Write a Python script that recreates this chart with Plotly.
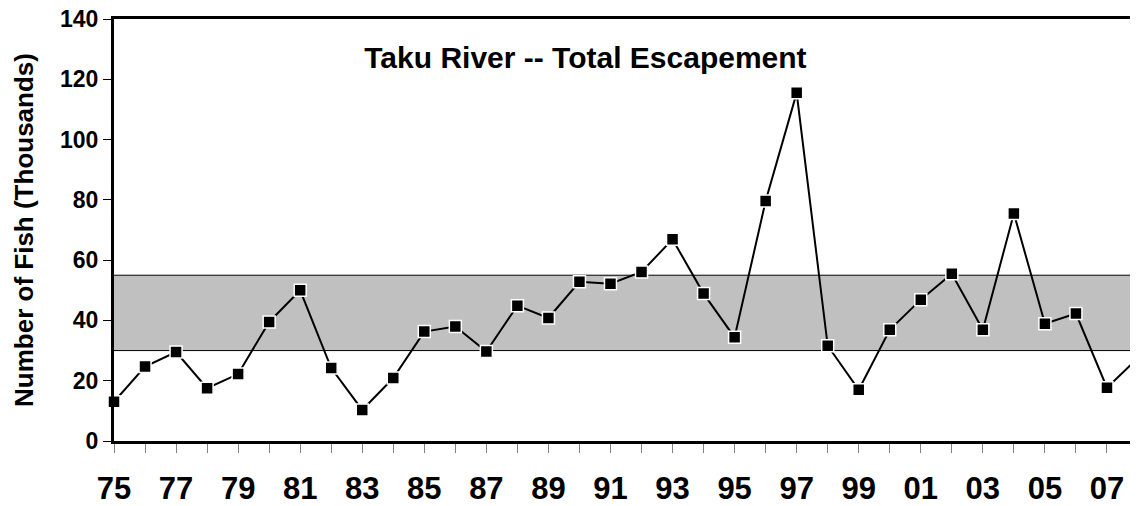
import plotly.graph_objects as go

# Taku River total escapement, thousands of fish
years = list(range(1975, 2009))
escapement = [13.0, 24.7, 29.5, 17.5, 22.2, 39.5, 50.0, 24.2, 10.3, 20.9,
              36.3, 38.0, 29.7, 44.9, 40.8, 52.8, 52.2, 56.1, 66.9, 48.9,
              34.4, 79.6, 115.5, 31.6, 17.0, 36.9, 46.9, 55.5, 36.9, 75.5,
              38.9, 42.3, 17.7, 27.5]

# escapement goal range
goal_low = 30
goal_high = 55

y_ticks = [0, 20, 40, 60, 80, 100, 120, 140]
x_ticktext = [str(y)[2:] if y % 2 == 1 else "" for y in years]

font = "Liberation Sans, Arial, sans-serif"

fig = go.Figure()

fig.add_trace(go.Scatter(
    x=years, y=escapement, mode="lines+markers",
    line=dict(color="black", width=2),
    marker=dict(symbol="square", size=12, color="black",
                line=dict(color="white", width=1.5)),
    cliponaxis=False, showlegend=False,
))

# goal band: grey fill with black edges top and bottom
fig.add_shape(type="rect", xref="paper", x0=0, x1=1, y0=goal_low, y1=goal_high,
              fillcolor="#C0C0C0", line=dict(width=0), layer="below")
for lvl in (goal_low, goal_high):
    fig.add_shape(type="line", xref="paper", x0=0, x1=1, y0=lvl, y1=lvl,
                  line=dict(color="black", width=1), layer="below")

# page body has an 8px margin, so the figure is 8px smaller than the window
fig.update_layout(
    width=1130, height=498,
    margin=dict(l=106, r=0, t=11, b=65),
    plot_bgcolor="white", paper_bgcolor="white",
    font=dict(family=font, color="black"),
    title=dict(text="<b>Taku River -- Total Escapement</b>",
               x=0.511, xanchor="center", y=0.9, yanchor="middle",
               font=dict(size=30, family=font, color="black")),
)

fig.update_xaxes(
    range=[1975, 2008], tickvals=years, ticktext=x_ticktext,
    showline=True, linecolor="black", linewidth=3, mirror=True,
    ticks="outside", ticklen=9, tickwidth=1, tickcolor="#808080",
    tickfont=dict(size=31, family=font, color="black", weight="bold"),
    ticklabelstandoff=9, ticklabeloverflow="allow",
    showgrid=False, zeroline=False, automargin=False,
)

fig.update_yaxes(
    range=[0, 140], tickvals=y_ticks,
    showline=True, linecolor="black", linewidth=3,
    ticks="outside", ticklen=8, tickwidth=1, tickcolor="black",
    tickfont=dict(size=23, family=font, color="black", weight="bold"),
    ticklabeloverflow="allow",
    title=dict(text="<b>Number of Fish (Thousands)</b>",
               font=dict(size=26, family=font, color="black"), standoff=19),
    showgrid=False, zeroline=False, automargin=False,
)

fig.write_html("out.html")
